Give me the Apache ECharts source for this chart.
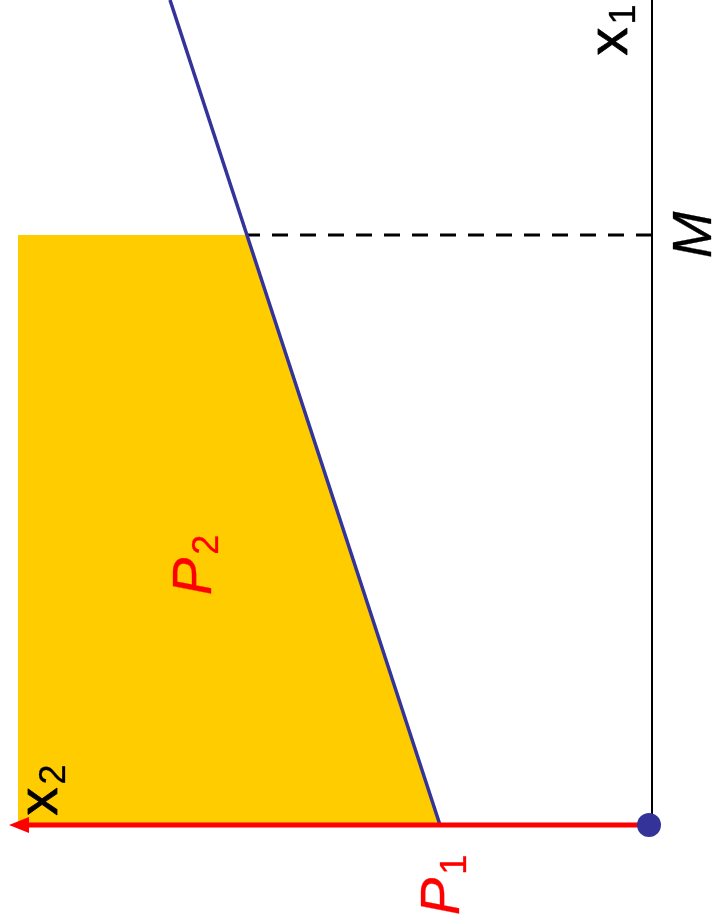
<!DOCTYPE html>
<html>
<head>
<meta charset="utf-8">
<script src="https://cdn.jsdelivr.net/npm/echarts@6/dist/echarts.min.js"></script>
<style>
  html, body { margin: 0; padding: 0; background: #fff; }
  #main { width: 715px; height: 924px; }
</style>
</head>
<body>
<div id="main"></div>
<script>
// x2 runs leftwards, x1 runs upwards (the figure is turned on its side)
const feasibleRegion = [[2.12, 0], [4.05, 5.9], [6.34, 5.9], [6.34, 0]]
const constraintLine = [[2.12, 0], [4.82, 8.25]]
const x1Axis = [[0, 0], [0, 8.25]]
const x2Arrow = [[0, 0], [6.3, 0]]
const arrowHead = [[6.33, 0]]
const mLine = [[0, 5.9], [4.05, 5.9]]
const origin = [[0.03, 0]]
const labels = [
  { name: '{x|x}{s|1}', value: [0.4, 7.95], color: '#000' },
  { name: '{m|M}', value: [-0.43, 5.9], color: '#000' },
  { name: '{x|x}{s|2}', value: [6.1, 0.35], color: '#000' },
  { name: '{m|P}{s|2}', value: [4.57, 2.6], color: '#ff0000' },
  { name: '{m|P}{s|1}', value: [2.09, -0.6], color: '#ff0000' }
]

const chart = echarts.init(document.getElementById('main'))

const font = 'Liberation Sans, Arial, sans-serif'

chart.setOption({
  backgroundColor: '#fff',
  animation: false,
  grid: { left: 0, right: 0, top: 0, bottom: 0 },
  xAxis: { type: 'value', min: -0.63, max: 6.52, inverse: true, show: false },
  yAxis: { type: 'value', min: -0.99, max: 8.25, show: false },
  series: [
    {
      type: 'custom',
      renderItem(params, api) {
        if (params.dataIndex !== 0) return null
        const pts = feasibleRegion.map(p => api.coord(p))
        return {
          type: 'polygon',
          shape: { points: pts },
          style: { fill: '#ffcc00' }
        }
      },
      data: feasibleRegion,
      z: 1
    },
    {
      type: 'line',
      data: mLine,
      symbol: 'none',
      lineStyle: { color: '#000', width: 3, type: [16, 12] },
      z: 2
    },
    {
      type: 'line',
      data: x1Axis,
      symbol: 'none',
      lineStyle: { color: '#000', width: 2 },
      z: 2
    },
    {
      type: 'line',
      data: constraintLine,
      symbol: 'none',
      lineStyle: { color: '#333399', width: 3.5 },
      z: 3
    },
    {
      type: 'line',
      data: x2Arrow,
      symbol: 'none',
      lineStyle: { color: '#ff0000', width: 5 },
      z: 4
    },
    {
      type: 'scatter',
      data: arrowHead,
      symbol: 'triangle',
      symbolSize: [16, 20],
      symbolRotate: 90,
      itemStyle: { color: '#ff0000', opacity: 1 },
      z: 4
    },
    {
      type: 'scatter',
      data: origin,
      symbolSize: 24,
      itemStyle: { color: '#333399', opacity: 1 },
      z: 5
    },
    {
      type: 'scatter',
      symbolSize: 0,
      itemStyle: { opacity: 1 },
      z: 6,
      data: labels.map(l => ({
        name: l.name,
        value: l.value,
        label: {
          rich: {
            x: { fontSize: 56, lineHeight: 56, color: l.color, fontFamily: font, textBorderColor: l.color, textBorderWidth: 0.8 },
            m: { fontSize: 56, lineHeight: 56, color: l.color, fontFamily: font, fontStyle: 'italic', textBorderColor: l.color, textBorderWidth: 0.3 },
            s: { fontSize: 36, lineHeight: 36, padding: [26, 0, 0, 3], color: l.color, fontFamily: font, textBorderColor: l.color, textBorderWidth: 0.3 }
          }
        }
      })),
      label: {
        show: true,
        position: 'inside',
        rotate: 90,
        opacity: 1,
        formatter: '{b}'
      }
    }
  ]
})
</script>
</body>
</html>
